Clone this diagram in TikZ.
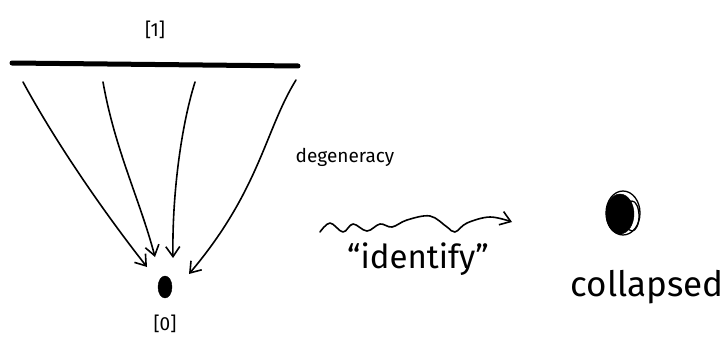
\documentclass[tikz,border=0pt]{standalone}
\usepackage{fontspec}
\setmainfont{Fira Sans}
\usetikzlibrary{arrows,arrows.meta}
\usetikzlibrary{shapes}
\usetikzlibrary{scopes}

\tikzset{
  hand/.style={line width=1.6pt, line cap=round, line join=round},
  barb/.style={hand, -{Straight Barb[length=10pt,width=14pt,line width=1.6pt]}},
  txt/.style={inner sep=0pt, font=\fontsize{#1}{#1}\selectfont}
}

\begin{document}
\begin{tikzpicture}[x=1pt,y=-1pt]
 			\useasboundingbox (0,0) rectangle (725,345);
 			%% Simplex [1]
 			\path (155,30) node(lbl1)[txt=19] {[1]};
 			\draw[line width=5pt, line cap=round] (12,63) coordinate(barL) -- (298,66) coordinate(barR);
 			% Point [0]
 			\path (165,287) node(dot0)[draw, fill, shape=ellipse, inner sep=0pt,
 				minimum width=14, minimum height=22] {};
 			\path (165,324) node(lbl0)[txt=19] {[0]};
 			%% Drawing Connecting Arrows
 			\path (23,82) coordinate(s1) (103,82) coordinate(s2)
 				(195,82) coordinate(s3) (296,80) coordinate(s4);
 			\path (147,267) coordinate(e1) (155,257) coordinate(e2)
 				(173,258) coordinate(e3) (189,274) coordinate(e4);
 			\draw[barb] (s1) .. controls (60,150) and (110,220) .. (e1);
 			\draw[barb] (s2) .. controls (115,150) and (140,200) .. (e2);
 			\draw[barb] (s3) .. controls (180,130) and (172,200) .. (e3);
 			\draw[barb] (s4) .. controls (265,130) and (260,190) .. (e4);
 			% Degeneracy map
 			\path (345,157) node(degen)[txt=19] {degeneracy};
 			\path (320,232) coordinate(wL) (512,222) coordinate(wR);
 			\draw[barb] plot[smooth, tension=0.6] coordinates {(wL) (330,223) (343,232) (353,224)
 				(367,231) (380,224) (392,227) (407,220) (430,216) (447,227) (455,232)
 				(467,223) (490,217) (wR)};
 			\path (418,259) node(ident)[txt=33] {“identify”};
 			%% Collapsed point
 			\path (620,214) node(ball)[draw, fill, shape=ellipse, inner sep=0pt,
 				minimum width=28, minimum height=40] {};
 			\draw[line width=1.3pt] (632,216) ellipse (7 and 15);
 			\draw[line width=1.3pt] (623,213) ellipse (17 and 22);
 			\path (647,287) node(coll)[txt=35] {collapsed};
 		\end{tikzpicture}
\end{document}
